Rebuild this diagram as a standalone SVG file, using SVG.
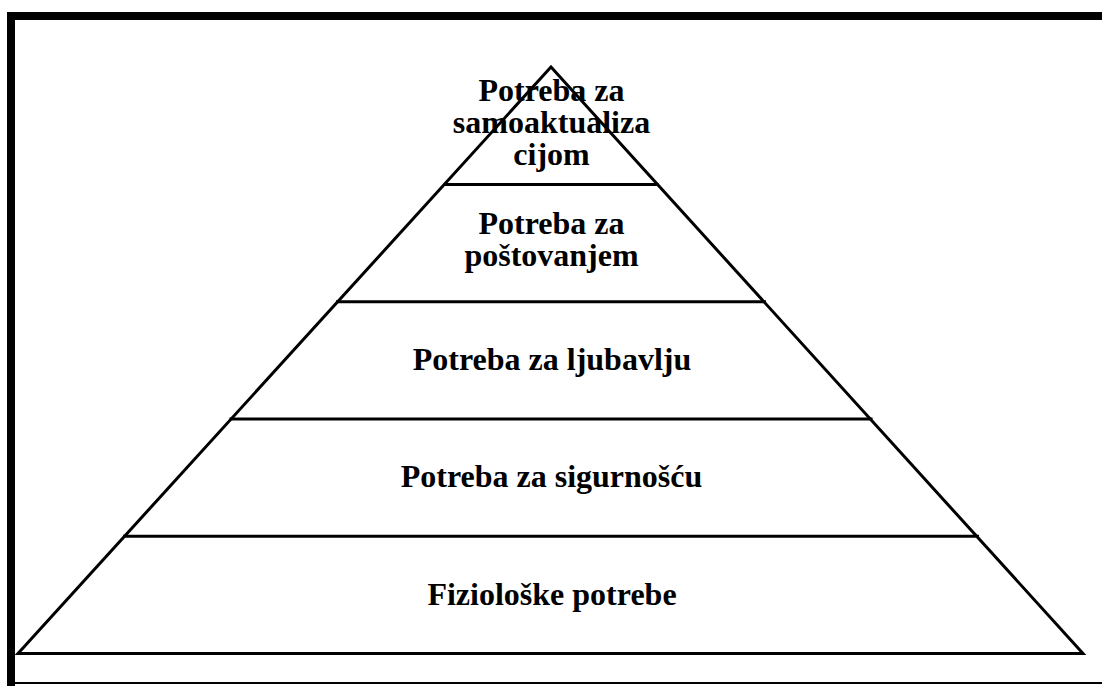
<svg xmlns="http://www.w3.org/2000/svg" width="1102" height="686" viewBox="0 0 1102 686">
<style>
.ln{stroke:#000;stroke-width:3;fill:none;stroke-linejoin:miter}
.t{font-family:"Liberation Serif","Times New Roman",serif;font-weight:bold;font-size:32px;fill:#000;text-anchor:middle}
</style>
<rect width="1102" height="686" fill="#fff"/>
<g id="frame">
<line x1="7" y1="16" x2="1102" y2="16" stroke="#000" stroke-width="8"/>
<line x1="11" y1="12" x2="11" y2="686" stroke="#000" stroke-width="8"/>
<line x1="15" y1="683" x2="1102" y2="683" stroke="#000" stroke-width="2"/>
</g>
<g id="connectors">
<polygon class="ln" points="551,67 1083,653.5 18,653.5"/>
<line class="ln" x1="443.5" y1="184.5" x2="658.5" y2="184.5"/>
<line class="ln" x1="336" y1="301.7" x2="766" y2="301.7"/>
<line class="ln" x1="229.5" y1="419" x2="872.5" y2="419"/>
<line class="ln" x1="123" y1="536.3" x2="979" y2="536.3"/>
</g>
<g id="level5">
<text class="t" x="551.5" y="101">Potreba za</text>
<text class="t" x="551.5" y="133">samoaktualiza</text>
<text class="t" x="551.5" y="165">cijom</text>
</g>
<g id="level4">
<text class="t" x="551.5" y="234">Potreba za</text>
<text class="t" x="551.5" y="266">poštovanjem</text>
</g>
<g id="level3">
<text class="t" x="552" y="370">Potreba za ljubavlju</text>
</g>
<g id="level2">
<text class="t" x="551.5" y="487">Potreba za sigurnošću</text>
</g>
<g id="level1">
<text class="t" x="552" y="605">Fiziološke potrebe</text>
</g>
</svg>
